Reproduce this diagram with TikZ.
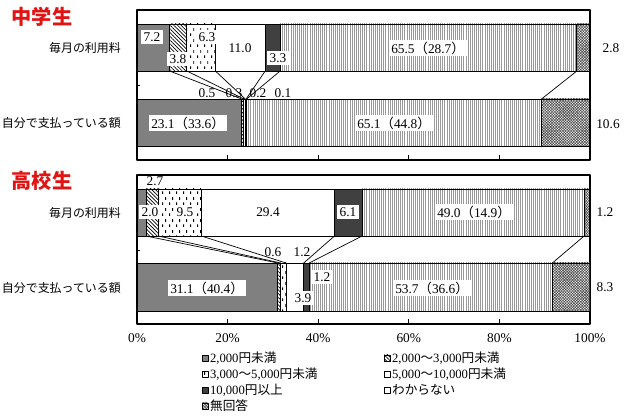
\documentclass[tikz,border=0pt]{standalone}
\usepackage{fontspec}
\setmainfont{Liberation Serif}
\newfontfamily\jp{Noto Sans CJK JP}
\usetikzlibrary{patterns,patterns.meta}

\definecolor{titlered}{RGB}{225,20,20}

\tikzdeclarepattern{
  name=shortdash,
  type=uncolored,
  bounding box={(0pt,0pt) and (4pt,6pt)},
  tile size={(4pt,6pt)},
  code={
    \draw[line width=0.6pt] (1pt,0.6pt) -- (1pt,2.2pt);
    \draw[line width=0.6pt] (3pt,3.6pt) -- (3pt,5.2pt);
  }
}

\tikzset{
  seg/.style={draw=black,line width=0.5pt},
  yen2/.style={seg,fill=black!50},
  yen3/.style={seg,pattern={Lines[angle=-45,distance=1.5pt,line width=0.4pt]}},
  yen5/.style={seg,pattern=shortdash},
  yen10/.style={seg,fill=white},
  yenmax/.style={seg,fill=black!75},
  unknown/.style={seg,pattern={Lines[angle=90,distance=1.2pt,line width=0.45pt]},pattern color=black!40},
  noans/.style={seg,pattern={Hatch[angle=45,distance=1.1pt,line width=0.35pt]},pattern color=black!70},
  val/.style={fill=white,inner xsep=1.5pt,inner ysep=1.2pt,font=\fontsize{7.6}{8}\selectfont},
  bare/.style={inner sep=1pt,font=\fontsize{7.6}{8}\selectfont},
  cat/.style={anchor=east,font=\jp\fontsize{6.8}{8}\selectfont},
  leg/.style={anchor=west,inner sep=1pt,font=\fontsize{7.2}{8}\selectfont},
  ttl/.style={text=titlered,font=\jp\bfseries\fontsize{11.5}{13}\selectfont},
}

% one stacked bar, values in percent
\newcommand\stackbar[3]{%
  \gdef\cumv{0}%
  \foreach \v/\s in {#3}{%
    \pgfmathsetmacro\nxt{\cumv+\v}%
    \draw[\s] ({137+4.53*\cumv},#1) rectangle ({137+4.53*\nxt},#2);
    \xdef\cumv{\nxt}%
  }}
\newcommand\paren[1]{{\jp（}#1{\jp）}}

\begin{document}
\begin{tikzpicture}[x=0.02cm,y=-0.02cm,line join=round]
  \useasboundingbox (0,0) rectangle (629,418);

  % ---- 中学生
  \node[ttl] at (42,17) {中学生};
  \draw[line width=0.6pt] (137,10) rectangle (590,160);
  \foreach \x in {20,40,60,80} \draw ({137+4.53*\x},160) -- ++(0,-5);
  \draw (137,85) -- ++(3,0);
  \node[cat] at (127,48) {毎月の利用料};
  \node[cat] at (127,123) {自分で支払っている額};
  \stackbar{24}{71}{7.2/yen2,3.8/yen3,6.3/yen5,11.0/yen10,3.3/yenmax,65.5/unknown,2.8/noans}
  \stackbar{99}{146}{23.1/yen2,0.5/yen3,0.3/yen5,0.2/yen10,0.1/yenmax,65.1/unknown,10.6/noans}
  \node[bare] at (207,93) {0.5};
  \node[bare] at (234,93) {0.3};
  \node[bare] at (258,93) {0.2};
  \node[bare] at (283,93) {0.1};
  \foreach \a/\b in {7.2/23.1,11.0/23.6,17.3/23.9,28.3/24.1,31.6/24.2,97.1/89.3}
    \draw ({137+4.53*\a},71) -- ({137+4.53*\b},99);
  \node[val] at (152,37) {7.2};
  \node[val] at (178,59) {3.8};
  \node[val] at (207,37) {6.3};
  \node[val] at (240,48) {11.0};
  \node[val] at (278,58) {3.3};
  \node[val] at (428,48) {65.5\paren{28.7}};
  \node[bare] at (611,48) {2.8};
  \node[val] at (188,123) {23.1\paren{33.6}};
  \node[val] at (394,123) {65.1\paren{44.8}};
  \node[bare] at (608,124) {10.6};

  % ---- 高校生
  \node[ttl] at (42,181) {高校生};
  \draw[line width=0.6pt] (137,175) rectangle (590,324);
  \foreach \x in {20,40,60,80} \draw ({137+4.53*\x},324) -- ++(0,-5);
  \draw (137,250) -- ++(3,0);
  \node[cat] at (127,213) {毎月の利用料};
  \node[cat] at (127,288) {自分で支払っている額};
  \stackbar{189}{236}{2.0/yen2,2.7/yen3,9.5/yen5,29.4/yen10,6.1/yenmax,49.0/unknown,1.2/noans}
  \stackbar{263}{311}{31.1/yen2,0.6/yen3,1.2/yen5,3.9/yen10,1.2/yenmax,53.7/unknown,8.3/noans}
  \foreach \a/\b in {2.0/31.1,4.7/31.7,14.2/32.9,43.6/36.8,49.7/38.0,98.7/91.7}
    \draw ({137+4.53*\a},236) -- ({137+4.53*\b},263);
  \node[bare] at (155,181) {2.7};
  \node[val] at (150,212) {2.0};
  \node[val] at (185,212) {9.5};
  \node[val] at (268,212) {29.4};
  \node[val] at (348,212) {6.1};
  \node[val] at (474,212) {49.0\paren{14.9}};
  \node[bare] at (605,212) {1.2};
  \node[val] at (207,288) {31.1\paren{40.4}};
  \node[bare] at (273,252) {0.6};
  \node[bare] at (302,252) {1.2};
  \node[val] at (322,277) {1.2};
  \node[val] at (303,298) {3.9};
  \node[val] at (432,288) {53.7\paren{36.6}};
  \node[bare] at (605,287) {8.3};

  % axis
  \foreach \x in {0,20,40,60,80,100}
    \node[bare] at ({137+4.53*\x},338) {\x\%};

  % legend
  \draw[yen2] (202,355) rectangle (208,361);
  \node[leg] at (208,358) {2,000{\jp 円未満}};
  \draw[yen3] (384,355) rectangle (390,361);
  \node[leg] at (390,358) {2,000{\jp ～}3,000{\jp 円未満}};
  \draw[yen5] (202,371) rectangle (208,377);
  \node[leg] at (208,374) {3,000{\jp ～}5,000{\jp 円未満}};
  \draw[yen10] (384,371) rectangle (390,377);
  \node[leg] at (390,374) {5,000{\jp ～}10,000{\jp 円未満}};
  \draw[yenmax] (202,387) rectangle (208,393);
  \node[leg] at (208,390) {10,000{\jp 円以上}};
  \draw[yen10] (384,387) rectangle (390,393);
  \node[leg] at (390,390) {\jp わからない};
  \draw[noans] (202,403) rectangle (208,409);
  \node[leg] at (208,406) {\jp 無回答};
\end{tikzpicture}
\end{document}
